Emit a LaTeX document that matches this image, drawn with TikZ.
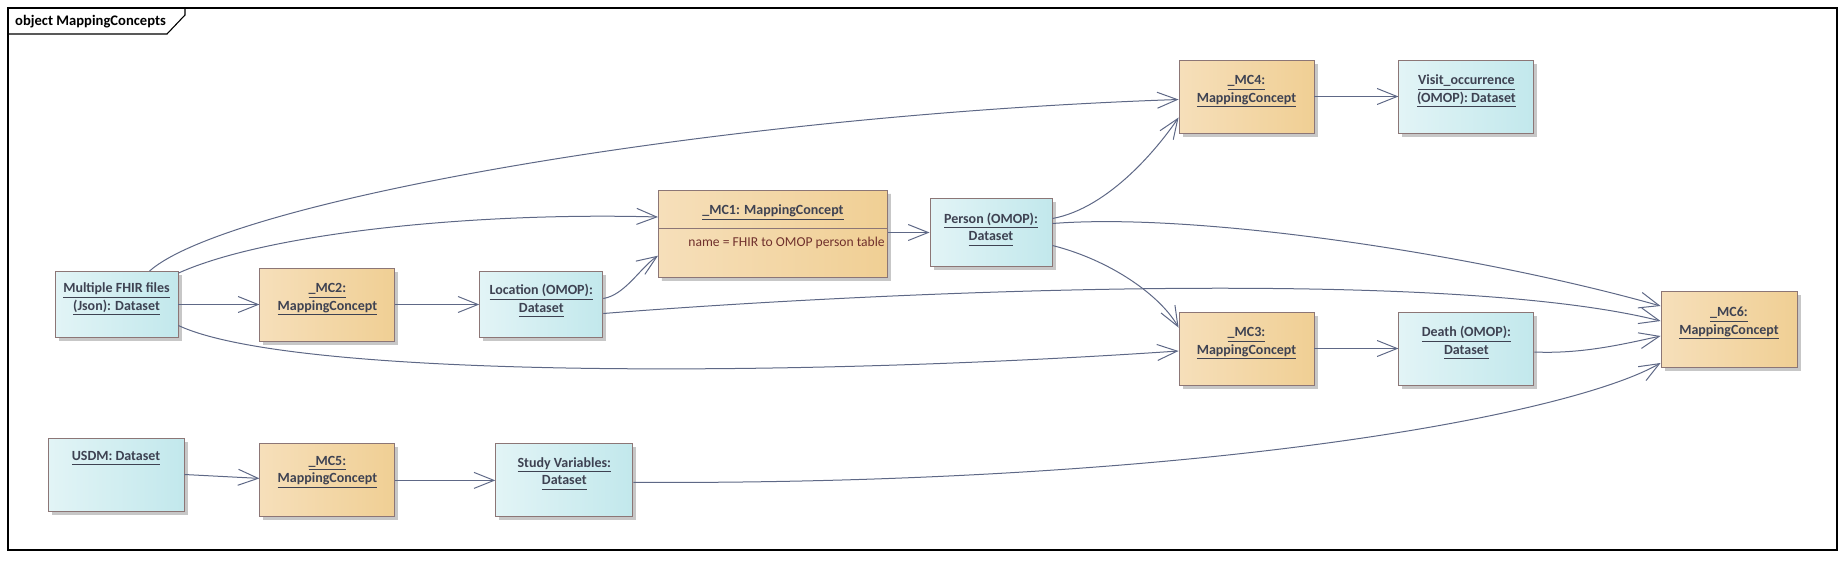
\documentclass[tikz,border=0pt]{standalone}
\usepackage{fontspec}
\setmainfont{Carlito}
\usepackage{xcolor}
\usepackage{tikz}
\usetikzlibrary{arrows.meta,positioning,shapes.multipart,shadows}

\definecolor{dsleft}{RGB}{226,244,246}
\definecolor{dsright}{RGB}{194,232,236}
\definecolor{mcleft}{RGB}{246,223,186}
\definecolor{mcright}{RGB}{240,207,148}
\definecolor{objborder}{RGB}{140,118,118}
\definecolor{objtext}{RGB}{62,66,82}
\definecolor{attrtext}{RGB}{112,48,44}
\definecolor{depline}{RGB}{94,104,134}

\newcommand{\uln}[1]{\setbox0=\hbox{#1}\rlap{\rule[-5pt]{\wd0}{1.1pt}}\box0}
\newcommand{\objtext}[2][6.5pt]{\raisebox{#1}[\height][\depth]{\begin{tabular}{@{}c@{}}#2\end{tabular}}}

\begin{document}
\begin{tikzpicture}[
    x=1pt, y=-1pt,
    obj/.style={rectangle, draw=objborder, line width=0.9pt, inner sep=0pt, text=objtext,
        font=\fontsize{14}{17.5}\selectfont\bfseries,
        drop shadow={shadow xshift=3.5pt, shadow yshift=-3.5pt, fill=black!22, opacity=1}},
    dataset/.style={obj, left color=dsleft, right color=dsright},
    mapconcept/.style={obj, left color=mcleft, right color=mcright, minimum width=135pt, minimum height=73pt},
    arrow/.style={-{Straight Barb[length=20pt, width=16pt]}, draw=depline, line width=1pt},
    frame/.style={draw=black, line width=1.1pt}
]
\useasboundingbox (0,0) rectangle (1848,560);

% Diagram frame
\draw[frame] (8,8) rectangle (1837,550);
\draw[frame] (8,34) -- (167,34) -- (185,15) -- (185,8);
\node[anchor=base west, inner sep=0pt, font=\fontsize{14.6}{17}\selectfont\bfseries] (title) at (15,25.5) {object MappingConcepts};

% FHIR chain
\node[dataset, minimum width=123pt, minimum height=66pt] (fhir) at (116.5,304.5) {\objtext{\uln{Multiple FHIR files}\\\uln{(Json): Dataset}}};
\node[mapconcept, right=81pt of fhir] (mc2) {\objtext{\uln{\_MC2:}\\\uln{MappingConcept}}};
\node[dataset, minimum width=123pt, minimum height=66pt, right=84pt of mc2] (loc) {\objtext[4.5pt]{\uln{Location (OMOP):}\\\uln{Dataset}}};
\node[mapconcept, rectangle split, rectangle split parts=2, rectangle split part align={center,left},
    minimum width=229pt, minimum height=0pt, anchor=north west] (mc1) at (658,190)
    {\rule[-13pt]{0pt}{37pt}\uln{\_MC1: MappingConcept}\nodepart{two}\rule[-30pt]{0pt}{48pt}\hspace*{30pt}{\mdseries\color{attrtext}\fontsize{13.6}{16}\selectfont name = FHIR to OMOP person table}};
\node[dataset, minimum width=122pt, minimum height=68pt] (person) at (991,232.5) {\objtext[4pt]{\uln{Person (OMOP):}\\\uln{Dataset}}};
\node[mapconcept] (mc4) at (1246.5,96.5) {\objtext{\uln{\_MC4:}\\\uln{MappingConcept}}};
\node[dataset, minimum width=135pt, minimum height=73pt, right=84pt of mc4] (visit) {\objtext{\uln{Visit\_occurrence}\\\uln{(OMOP): Dataset}}};
\node[mapconcept] (mc3) at (1246.5,348.5) {\objtext{\uln{\_MC3:}\\\uln{MappingConcept}}};
\node[dataset, minimum width=135pt, minimum height=73pt, right=84pt of mc3] (death) {\objtext{\uln{Death (OMOP):}\\\uln{Dataset}}};
\node[mapconcept, minimum width=136pt, minimum height=76pt] (mc6) at (1729,329) {\objtext[7pt]{\uln{\_MC6:}\\\uln{MappingConcept}}};

% USDM chain
\node[dataset, minimum width=136pt, minimum height=73pt] (usdm) at (116,474.5) {\objtext[18pt]{\uln{USDM: Dataset}}};
\node[mapconcept, below=102pt of mc2] (mc5) {\objtext[10pt]{\uln{\_MC5:}\\\uln{MappingConcept}}};
\node[dataset, minimum width=137pt, minimum height=73pt, right=100pt of mc5] (study) {\objtext[8pt]{\uln{Study Variables:}\\\uln{Dataset}}};

% Straight flows
\draw[arrow] (fhir) -- (mc2);
\draw[arrow] (mc2) -- (loc);
\draw[arrow] (person.west -| mc1.east) -- (person.west);
\draw[arrow] (mc4) -- (visit);
\draw[arrow] (mc3) -- (death);
\draw[arrow] (usdm.east) -- ([yshift=2pt]mc5.west);
\draw[arrow] (mc5) -- (study);

% Curved flows
\draw[arrow] ([yshift=6pt]loc.east) .. controls (625,295) and (640,268) .. ([yshift=22pt]mc1.south west);
\draw[arrow] ([yshift=-2pt]fhir.north east) .. controls (270,232) and (480,212) .. ([yshift=-27pt]mc1.north west);
\draw[arrow] ([xshift=33pt]fhir.north) .. controls (230,200) and (720,115) .. ([yshift=-3pt]mc4.west);
\draw[arrow] ([yshift=-21pt]fhir.east) .. controls (290,378) and (780,378) .. ([yshift=-2.5pt]mc3.west);
\draw[arrow] ([yshift=14pt]person.east) .. controls (1110,208) and (1160,145) .. ([yshift=-21pt]mc4.west);
\draw[arrow] ([yshift=9pt]person.east) .. controls (1200,212) and (1480,255) .. ([yshift=23pt]mc6.west);
\draw[arrow] ([yshift=-13pt]person.east) .. controls (1110,260) and (1160,295) .. ([yshift=-16pt]mc3.north west);
\draw[arrow] ([yshift=-9pt]loc.east) .. controls (900,290) and (1450,268) .. ([yshift=8pt]mc6.west);
\draw[arrow] ([yshift=-3.5pt]death.east) .. controls (1580,354) and (1620,345) .. ([yshift=-7pt]mc6.west);
\draw[arrow] ([yshift=-2pt]study.east) .. controls (1200,485) and (1570,415) .. ([yshift=-34pt]mc6.west);
\end{tikzpicture}
\end{document}
